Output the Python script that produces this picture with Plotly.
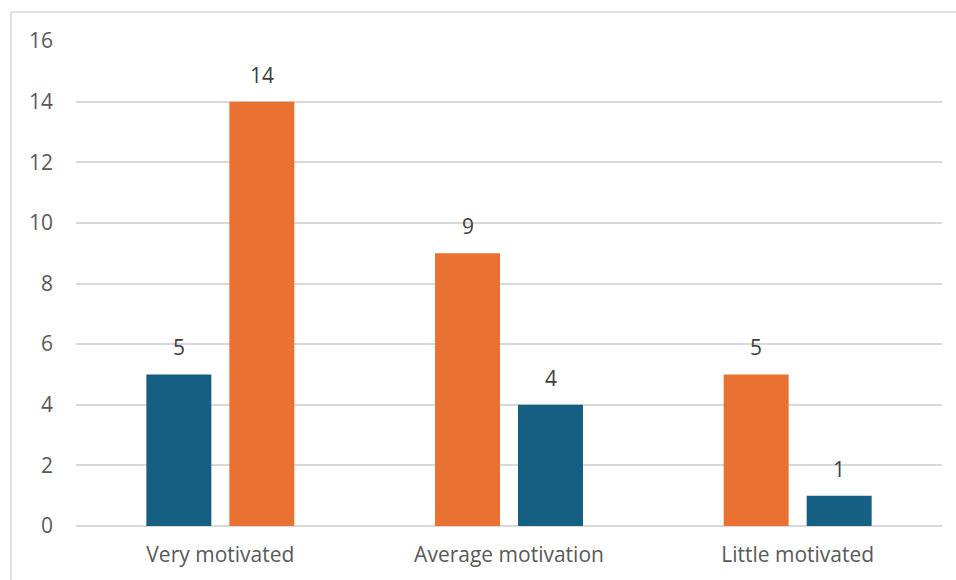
import plotly.graph_objects as go

categories = ["Very motivated", "Average motivation", "Little motivated"]
first_bar = [5, 9, 5]
second_bar = [14, 4, 1]
first_colors = ["#156082", "#E97132", "#E97132"]
second_colors = ["#E97132", "#156082", "#156082"]
y_ticks = [0, 2, 4, 6, 8, 10, 12, 14, 16]

FONT = "Open Sans"
FS = 21
W, H = 956, 580
L, R, T, B = 76, 14, 41, 54

fig = go.Figure()
fig.add_trace(go.Bar(x=categories, y=first_bar, marker=dict(color=first_colors, line=dict(width=0)),
                     hoverinfo="x+y"))
fig.add_trace(go.Bar(x=categories, y=second_bar, marker=dict(color=second_colors, line=dict(width=0)),
                     hoverinfo="x+y"))

# value labels above each bar
for vals, shift in ((first_bar, -41.5), (second_bar, 41.5)):
    for c, v in zip(categories, vals):
        fig.add_annotation(x=c, y=v, text=str(v), showarrow=False, xshift=shift, yshift=27,
                           yanchor="middle", font=dict(family=FONT, size=FS, color="#404040"))

pw, ph = W - L - R, H - T - B
# chart frame (left and top edges)
fig.add_shape(type="line", xref="paper", yref="paper", x0=(11 - L) / pw, x1=(W - L) / pw + 0.1,
              y0=1 + (T - 12) / ph, y1=1 + (T - 12) / ph, line=dict(color="#d9d9d9", width=1.5))
fig.add_shape(type="line", xref="paper", yref="paper", x0=(11 - L) / pw, x1=(11 - L) / pw,
              y0=1 + (T - 12) / ph, y1=-(B + 5) / ph, line=dict(color="#d9d9d9", width=1.5))

fig.update_layout(
    width=W, height=H, margin=dict(l=L, r=R, t=T, b=B),
    paper_bgcolor="white", plot_bgcolor="white",
    barmode="group", bargap=0.425, bargroupgap=0.217,
    showlegend=False,
    font=dict(family=FONT, size=FS, color="#595959"),
)
fig.update_xaxes(showgrid=False, showline=False, ticks="", ticklabelstandoff=14,
                 tickfont=dict(family=FONT, size=FS, color="#595959"))
fig.update_yaxes(range=[0, 16], tickvals=y_ticks, showgrid=True, gridcolor="#d9d9d9", gridwidth=1.5,
                 zeroline=True, zerolinecolor="#d9d9d9", zerolinewidth=1.5,
                 showline=False, ticks="", ticklabelstandoff=22,
                 tickfont=dict(family=FONT, size=FS, color="#595959"))

fig.write_html("out.html")
